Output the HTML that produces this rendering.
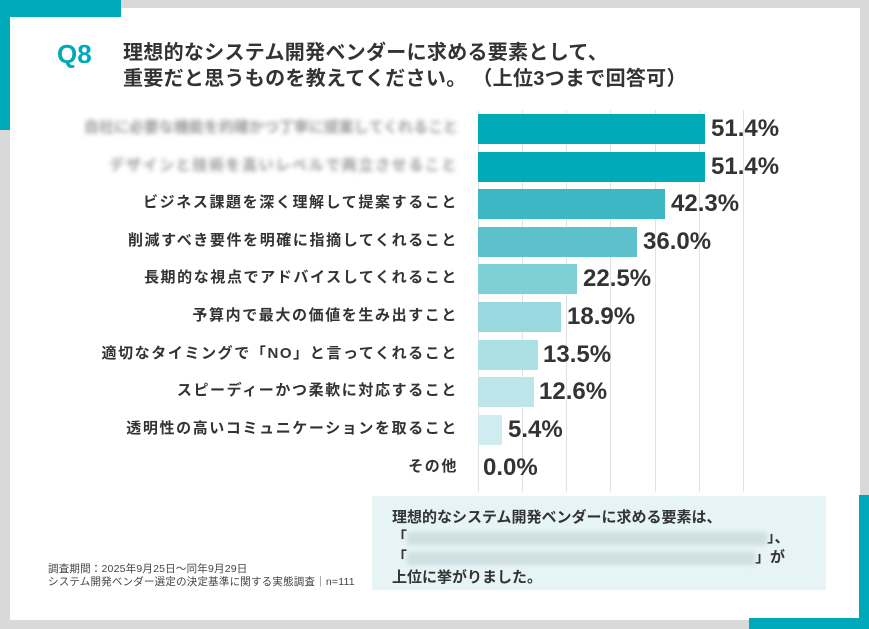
<!DOCTYPE html>
<html><head><meta charset="utf-8"><style>
*{margin:0;padding:0;box-sizing:border-box}
body{width:869px;height:629px;background:#d9d9d9;position:relative;overflow:hidden;font-family:"Liberation Sans","Noto Sans CJK JP",sans-serif;color:#333}
.a{position:absolute}
.card{left:10px;top:8px;width:850px;height:612px;background:#fff}
.lab{right:411px;font-size:15px;letter-spacing:1.6px;font-weight:bold;white-space:nowrap;text-align:right;line-height:20px}
.bar{left:478px;height:30px}
.val{font-size:24px;font-weight:bold;line-height:30px;color:#333}
.g{top:110px;width:1px;height:382px;background:#e2e2e2}
.blur{color:#999;filter:blur(2.5px)}
</style></head><body>
<div class="a card"></div>
<div class="a" style="left:0;top:0;width:121px;height:17px;background:#00a9b9"></div>
<div class="a" style="left:0;top:0;width:10px;height:130px;background:#00a9b9"></div>
<div class="a" style="left:859px;top:495px;width:10px;height:134px;background:#00a9b9"></div>
<div class="a" style="left:749px;top:618px;width:120px;height:11px;background:#00a9b9"></div>
<div class="a" style="left:57px;top:39px;font-size:26px;font-weight:bold;color:#00a9b9">Q8</div>
<div class="a" style="left:123px;top:40px;font-size:20px;letter-spacing:0.3px;font-weight:bold;line-height:26px;color:#333;white-space:nowrap">理想的なシステム開発ベンダーに求める要素として、<br>重要だと思うものを教えてください。 （上位3つまで回答可）</div>
<div class="a g" style="left:478px"></div><div class="a g" style="left:522px"></div><div class="a g" style="left:566px"></div><div class="a g" style="left:610px"></div><div class="a g" style="left:655px"></div><div class="a g" style="left:699px"></div><div class="a g" style="left:743px"></div>

<div class="a lab blur" style="top:118px;letter-spacing:0">自社に必要な機能を的確かつ丁寧に提案してくれること</div>
<div class="a bar" style="top:114px;width:227px;background:#00aab8"></div><div class="a val" style="left:711px;top:114px">51.4%</div>
<div class="a lab blur" style="top:156px">デザインと技術を高いレベルで両立させること</div>
<div class="a bar" style="top:152px;width:227px;background:#00aab8"></div><div class="a val" style="left:711px;top:152px">51.4%</div>
<div class="a lab" style="top:193px">ビジネス課題を深く理解して提案すること</div>
<div class="a bar" style="top:189px;width:187px;background:#3db7c3"></div><div class="a val" style="left:671px;top:189px">42.3%</div>
<div class="a lab" style="top:231px">削減すべき要件を明確に指摘してくれること</div>
<div class="a bar" style="top:227px;width:159px;background:#5cc1cb"></div><div class="a val" style="left:643px;top:227px">36.0%</div>
<div class="a lab" style="top:268px">長期的な視点でアドバイスしてくれること</div>
<div class="a bar" style="top:264px;width:99px;background:#7fcfd7"></div><div class="a val" style="left:583px;top:264px">22.5%</div>
<div class="a lab" style="top:306px">予算内で最大の価値を生み出すこと</div>
<div class="a bar" style="top:302px;width:83px;background:#98d8de"></div><div class="a val" style="left:567px;top:302px">18.9%</div>
<div class="a lab" style="top:344px">適切なタイミングで「NO」と言ってくれること</div>
<div class="a bar" style="top:340px;width:60px;background:#ade0e5"></div><div class="a val" style="left:543px;top:340px">13.5%</div>
<div class="a lab" style="top:381px">スピーディーかつ柔軟に対応すること</div>
<div class="a bar" style="top:377px;width:56px;background:#bde6ea"></div><div class="a val" style="left:539px;top:377px">12.6%</div>
<div class="a lab" style="top:419px">透明性の高いコミュニケーションを取ること</div>
<div class="a bar" style="top:415px;width:24px;background:#cfedf0"></div><div class="a val" style="left:508px;top:415px">5.4%</div>
<div class="a lab" style="top:457px">その他</div>
<div class="a val" style="left:483px;top:453px">0.0%</div>

<div class="a" style="left:372px;top:496px;width:454px;height:94px;background:#e6f4f6"></div>
<div class="a" style="left:392px;top:508px;font-size:15px;font-weight:bold;line-height:20px;color:#333;white-space:nowrap">理想的なシステム開発ベンダーに求める要素は、<br>「<span style="display:inline-block;width:360px;height:13px;background:#cfdfe2;filter:blur(2px);vertical-align:middle"></span>」、<br>「<span style="display:inline-block;width:348px;height:13px;background:#cfdfe2;filter:blur(2px);vertical-align:middle"></span>」が<br>上位に挙がりました。</div>
<div class="a" style="left:48px;top:563px;font-size:10.5px;letter-spacing:0.2px;line-height:13px;color:#444;white-space:nowrap">調査期間：2025年9月25日～同年9月29日<br>システム開発ベンダー選定の決定基準に関する実態調査｜n=111</div>
</body></html>
